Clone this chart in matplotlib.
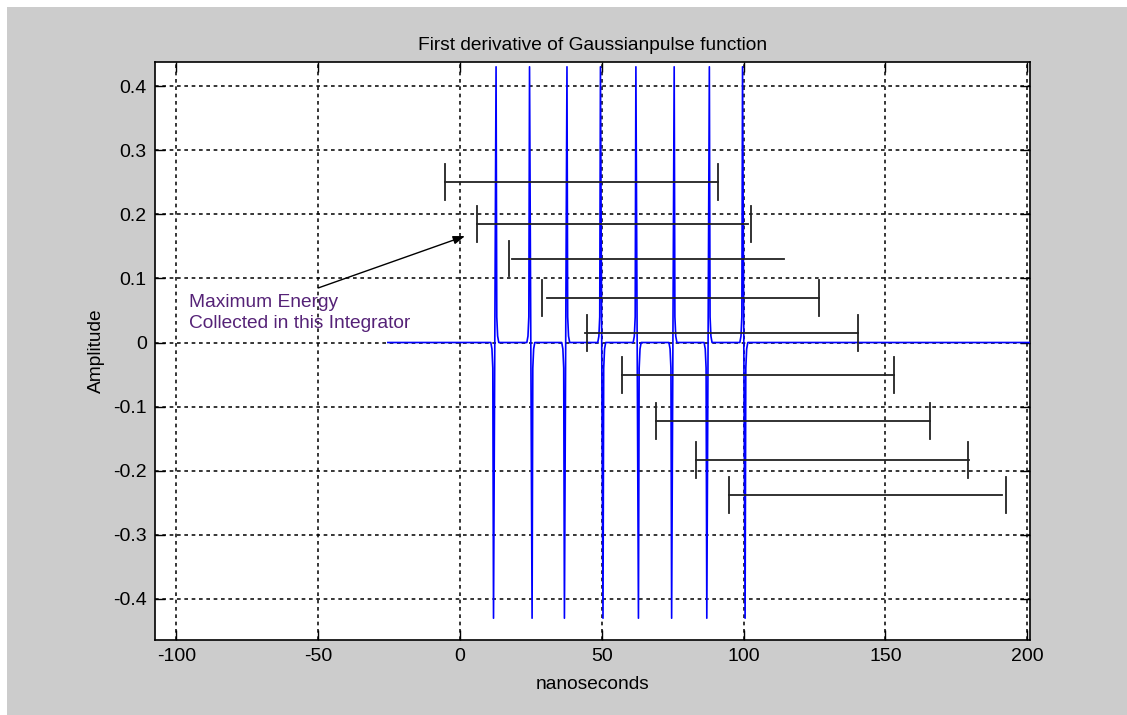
import matplotlib.pyplot as plt
from matplotlib.patches import Rectangle

plt.rcParams['font.family'] = ['Liberation Sans', 'DejaVu Sans']
plt.rcParams['axes.unicode_minus'] = False

# pulse train (first derivative of gaussian pulse), centres in ns
pulse_centers = [12.3, 25.0, 37.3, 50.0, 62.5, 75.1, 87.5, 100.1]
# 1 = negative lobe first, -1 = positive lobe first
pulse_signs = [1, -1, 1, -1, -1, 1, 1, -1]
# one pulse: offset from centre (ns) and amplitude
pulse_dt = [-1.4, -1.0, -0.7, -0.45, 0.45, 0.7, 1.0, 1.4]
pulse_amp = [0.0, -0.01, -0.04, -0.43, 0.43, 0.04, 0.01, 0.0]
signal_start = -25.4
signal_end = 205.0

# integrator windows (ns)
bar_y = [0.250, 0.185, 0.131, 0.069, 0.015, -0.050, -0.122, -0.183, -0.238]
bar_start = [-5.3, 5.9, 18.5, 30.6, 44.2, 57.0, 69.0, 83.2, 94.8]
bar_end = [91.0, 101.6, 114.3, 126.6, 140.4, 153.0, 165.7, 179.5, 191.1]
tick_left = [-5.3, 5.9, 17.4, 29.0, 44.7, 57.0, 69.0, 83.2, 94.8]
tick_right = [91.0, 102.5, None, 126.6, 140.4, 153.0, 165.7, 179.0, 192.5]

xticks = [-100, -50, 0, 50, 100, 150, 200]
yticks = [-0.4, -0.3, -0.2, -0.1, 0, 0.1, 0.2, 0.3, 0.4]
ytick_labels = ['-0.4', '-0.3', '-0.2', '-0.1', '0', '0.1', '0.2', '0.3', '0.4']

# build waveform
t = [signal_start]
v = [0.0]
for c, s in zip(pulse_centers, pulse_signs):
    for dt, a in zip(pulse_dt, pulse_amp):
        t.append(c + dt)
        v.append(s * a)
t.append(signal_end)
v.append(0.0)

fig = plt.figure(figsize=(11.27, 7.15), dpi=100, facecolor='white')
fig.add_artist(Rectangle((7 / 1127, 0), 1, 708 / 715, transform=fig.transFigure,
                         facecolor='#cccccc', edgecolor='none', zorder=-10))
ax = fig.add_axes([155 / 1127, 75 / 715, 875 / 1127, 578 / 715])
ax.set_facecolor('white')

ax.plot(t, v, color='#0000ff', lw=1.2, zorder=3)

for y, x0, x1, tl, tr in zip(bar_y, bar_start, bar_end, tick_left, tick_right):
    ax.plot([x0, x1], [y, y], color='#222222', lw=1.3, zorder=4)
    ax.plot([tl, tl], [y - 0.028, y + 0.028], color='#222222', lw=1.3, zorder=4)
    if tr is not None:
        ax.plot([tr, tr], [y - 0.028, y + 0.028], color='#222222', lw=1.3, zorder=4)

ax.annotate('', xy=(1.8, 0.166), xytext=(-50.0, 0.085),
            arrowprops=dict(arrowstyle='-|>,head_length=0.7,head_width=0.25',
                            color='black', lw=1.0, shrinkA=0, shrinkB=0), zorder=5)
ax.text(-95.5, 0.076, 'Maximum Energy\nCollected in this Integrator', color='#552277',
        fontsize=13.8, ha='left', va='top', linespacing=1.3, zorder=5)

ax.set_xlim(-107.5, 201)
ax.set_ylim(-0.464, 0.4375)
ax.set_xticks(xticks)
ax.set_yticks(yticks)
ax.set_yticklabels(ytick_labels)
ax.grid(True, color='black', linestyle=(0, (2.4, 2.4)), lw=1.1)
ax.tick_params(direction='in', length=7, width=1, top=True, right=True,
               labelsize=14, pad=6, colors='black')
for sp in ax.spines.values():
    sp.set_linewidth(1.2)

ax.set_title('First derivative of Gaussianpulse function', fontsize=13.8, pad=9)
ax.set_xlabel('nanoseconds', fontsize=13.8, labelpad=8)
ax.set_ylabel('Amplitude', fontsize=13.8, labelpad=6)

fig.savefig('out.png', dpi=100, facecolor=fig.get_facecolor())
